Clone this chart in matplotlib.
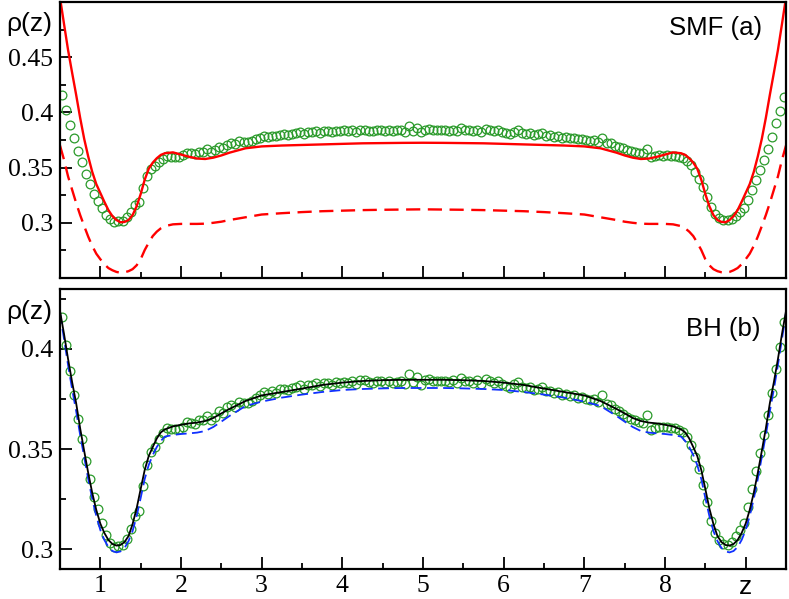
import numpy as np
import matplotlib.pyplot as plt
from matplotlib.ticker import FixedLocator

# density profiles rho(z) in a slit, MC data vs theory
plt.rcParams['font.family'] = 'serif'
plt.rcParams['font.serif'] = ['Liberation Serif', 'DejaVu Serif']
SERIF = 'Liberation Serif'
SANS = ['Liberation Sans', 'DejaVu Sans']

# MC points (same data in both panels)
z_mc = np.linspace(0.525, 9.475, 180)
rho_mc = [0.416, 0.402, 0.389, 0.377, 0.365, 0.355, 0.344, 0.335, 0.326, 0.320,
          0.313, 0.307, 0.303, 0.301, 0.3015, 0.302, 0.305, 0.310, 0.3165, 0.319,
          0.3315, 0.342, 0.3487, 0.351, 0.355, 0.358, 0.3603, 0.360, 0.3598, 0.360,
          0.3612, 0.3633, 0.363, 0.3625, 0.3645, 0.3645, 0.3667, 0.3645, 0.366, 0.369,
          0.368, 0.3708, 0.372, 0.3712, 0.3737, 0.373, 0.3728, 0.374, 0.3755, 0.377,
          0.3787, 0.3775, 0.379, 0.3782, 0.3798, 0.380, 0.3795, 0.3805, 0.3812, 0.3818,
          0.380, 0.3822, 0.382, 0.3828, 0.3815, 0.383, 0.3832, 0.382, 0.3835, 0.3828,
          0.3837, 0.383, 0.384, 0.3825, 0.3845, 0.3845, 0.3835, 0.383, 0.3842, 0.384,
          0.383, 0.3838, 0.3832, 0.3837, 0.384, 0.3825, 0.3873, 0.3835, 0.386, 0.382,
          0.3845, 0.3848, 0.384, 0.3842, 0.3838, 0.384, 0.3835, 0.3843, 0.383, 0.3855,
          0.3838, 0.384, 0.383, 0.3845, 0.3825, 0.3848, 0.3838, 0.383, 0.384, 0.3825,
          0.3815, 0.3803, 0.3825, 0.3837, 0.381, 0.3805, 0.3812, 0.3795, 0.380, 0.381,
          0.379, 0.3792, 0.378, 0.3787, 0.377, 0.3775, 0.3765, 0.377, 0.3755, 0.376,
          0.375, 0.3745, 0.3752, 0.3735, 0.377, 0.3725, 0.372, 0.370, 0.369, 0.3675,
          0.3662, 0.365, 0.3645, 0.3635, 0.363, 0.367, 0.3595, 0.3605, 0.361, 0.3608,
          0.3612, 0.3605, 0.3603, 0.3595, 0.3585, 0.356, 0.352, 0.346, 0.340, 0.332,
          0.3235, 0.314, 0.308, 0.3045, 0.3025, 0.3022, 0.3035, 0.3065, 0.3095, 0.313,
          0.321, 0.330, 0.339, 0.348, 0.357, 0.367, 0.378, 0.390, 0.401, 0.4135]

# theory curves
z_th = [0.50, 0.55, 0.60, 0.65, 0.70, 0.75, 0.80, 0.85, 0.90, 0.95, 1.00, 1.05, 1.10, 1.15,
        1.20, 1.25, 1.30, 1.35, 1.40, 1.45, 1.50, 1.55, 1.60, 1.65, 1.70, 1.75, 1.80,
        1.90, 2.00, 2.10, 2.20, 2.30, 2.40, 2.50, 2.60, 2.80, 3.00, 3.25, 3.50, 3.75,
        4.00, 4.25, 4.50, 4.75, 5.00,
        5.25, 5.50, 5.75, 6.00, 6.25, 6.50, 6.75, 7.00, 7.20, 7.40, 7.50, 7.60, 7.70,
        7.80, 7.90, 8.00, 8.10, 8.20, 8.25, 8.30, 8.35, 8.40, 8.45, 8.50, 8.55, 8.60,
        8.65, 8.70, 8.75, 8.80, 8.85, 8.90, 8.95, 9.00, 9.05, 9.10, 9.15, 9.20, 9.25,
        9.30, 9.35, 9.40, 9.45, 9.50]

smf_full = [0.504, 0.480, 0.4565, 0.436, 0.416, 0.395, 0.376, 0.360, 0.346, 0.335, 0.327,
            0.319, 0.3115, 0.306, 0.3025, 0.3005, 0.3008, 0.3025, 0.307, 0.315, 0.326, 0.339,
            0.349, 0.3545, 0.3585, 0.3615, 0.363, 0.3638, 0.3618, 0.3598, 0.3582, 0.3578,
            0.359, 0.361, 0.3635, 0.3675, 0.3692, 0.370, 0.3705, 0.371, 0.3715, 0.372,
            0.3722, 0.3724, 0.3725,
            0.3724, 0.3722, 0.372, 0.3715, 0.371, 0.3705, 0.370, 0.3692, 0.3675, 0.3635,
            0.361, 0.359, 0.3578, 0.3582, 0.3598, 0.3618, 0.3638, 0.363, 0.3615, 0.3585,
            0.3545, 0.349, 0.339, 0.326, 0.315, 0.307, 0.3025, 0.3008, 0.3005, 0.3025,
            0.306, 0.3115, 0.319, 0.327, 0.335, 0.346, 0.360, 0.376, 0.395, 0.416, 0.436,
            0.4565, 0.480, 0.504]

smf_dash = [0.370, 0.357, 0.342, 0.330, 0.318, 0.307, 0.297, 0.2874, 0.279, 0.272, 0.267,
            0.2625, 0.259, 0.257, 0.2555, 0.2548, 0.2552, 0.2562, 0.258, 0.2615, 0.267,
            0.2753, 0.282, 0.288, 0.292, 0.295, 0.297, 0.2986, 0.299, 0.299, 0.299, 0.2992,
            0.300, 0.301, 0.3025, 0.305, 0.3075, 0.3087, 0.3097, 0.3105, 0.311, 0.3115,
            0.3118, 0.312, 0.3122,
            0.312, 0.3118, 0.3115, 0.311, 0.3105, 0.3097, 0.3087, 0.3075, 0.305, 0.3025,
            0.301, 0.300, 0.2992, 0.299, 0.299, 0.299, 0.2986, 0.297, 0.295, 0.292, 0.288,
            0.282, 0.2753, 0.267, 0.2615, 0.258, 0.2562, 0.2552, 0.2548, 0.2555, 0.257,
            0.259, 0.2625, 0.267, 0.272, 0.279, 0.2874, 0.297, 0.307, 0.318, 0.330, 0.342,
            0.357, 0.370]

bh_full = [0.419, 0.4075, 0.395, 0.3835, 0.373, 0.3603, 0.349, 0.338, 0.328, 0.3195, 0.3127,
           0.308, 0.3045, 0.3025, 0.3017, 0.302, 0.3035, 0.3065, 0.3125, 0.3203, 0.330,
           0.3395, 0.3465, 0.351, 0.3553, 0.3583, 0.3598, 0.3613, 0.3621, 0.3628, 0.3632,
           0.364, 0.3655, 0.3678, 0.370, 0.374, 0.3768, 0.3785, 0.3802, 0.382, 0.3832,
           0.384, 0.3844, 0.3846, 0.3846,
           0.3846, 0.3844, 0.384, 0.3832, 0.382, 0.3802, 0.3785, 0.3768, 0.374, 0.370,
           0.3678, 0.3655, 0.364, 0.3632, 0.3628, 0.3621, 0.3613, 0.3598, 0.3583, 0.3553,
           0.351, 0.3465, 0.3395, 0.330, 0.3203, 0.3125, 0.3065, 0.3035, 0.302, 0.3017,
           0.3025, 0.3045, 0.308, 0.3127, 0.3195, 0.328, 0.338, 0.349, 0.3603, 0.373,
           0.3835, 0.395, 0.4075, 0.419]

bh_dash = [0.418, 0.405, 0.392, 0.380, 0.369, 0.357, 0.346, 0.335, 0.325, 0.3165, 0.3095,
           0.3045, 0.301, 0.299, 0.2983, 0.2988, 0.3005, 0.304, 0.309, 0.3165, 0.3255,
           0.335, 0.342, 0.347, 0.351, 0.354, 0.3562, 0.357, 0.3575, 0.3578, 0.3582, 0.359,
           0.361, 0.3637, 0.3665, 0.3715, 0.3737, 0.3757, 0.3772, 0.3785, 0.3795, 0.380,
           0.3803, 0.3805, 0.3805,
           0.3805, 0.3803, 0.380, 0.3795, 0.3785, 0.3772, 0.3757, 0.3737, 0.3715, 0.3665,
           0.3637, 0.361, 0.359, 0.3582, 0.3578, 0.3575, 0.357, 0.3562, 0.354, 0.351,
           0.347, 0.342, 0.335, 0.3255, 0.3165, 0.309, 0.304, 0.3005, 0.2988, 0.2983,
           0.299, 0.301, 0.3045, 0.3095, 0.3165, 0.325, 0.335, 0.346, 0.357, 0.369, 0.380,
           0.392, 0.405, 0.418]

green = '#2a9a2a'

fig = plt.figure(figsize=(7.89, 5.99), dpi=100)
ax1 = fig.add_axes([60/789, 1-278/599, 726/789, 276/599])
ax2 = fig.add_axes([60/789, 1-569/599, 726/789, 280/599])

for ax in (ax1, ax2):
    ax.plot(z_mc, rho_mc, 'o', mfc='none', mec=green, ms=6.3, mew=0.9)

ax1.plot(z_th, smf_full, color='red', lw=1.7)
ax1.plot(z_th, smf_dash, color='red', lw=1.7, dashes=(6, 3.2))
ax2.plot(z_th, bh_dash, color='#1030ff', lw=1.3, dashes=(6, 3))
ax2.plot(z_th, bh_full, color='black', lw=1.3)

ax1.set_ylim(0.25, 0.5)
ax2.set_ylim(0.29, 0.43)
for ax in (ax1, ax2):
    ax.set_xlim(0.5, 9.5)
    ax.xaxis.set_major_locator(FixedLocator(range(1, 10)))
    ax.xaxis.set_minor_locator(FixedLocator(np.arange(0.5, 9.6, 1.0)))
    ax.tick_params(which='both', direction='in', top=False, right=False, width=1.3,
                   labelsize=18.5, pad=5)
    ax.tick_params(which='major', length=8.5)
    ax.tick_params(which='minor', length=4.5)
    for s in ax.spines.values():
        s.set_linewidth(1.6)

ax1.set_yticks([0.3, 0.35, 0.4, 0.45])
ax1.set_yticklabels(['0.3', '0.35', '0.4', '0.45'], fontfamily=SERIF)
ax1.yaxis.set_minor_locator(FixedLocator([0.275, 0.325, 0.375, 0.425, 0.475]))
ax1.tick_params(labelbottom=False)

ax2.set_yticks([0.3, 0.35, 0.4])
ax2.set_yticklabels(['0.3', '0.35', '0.4'], fontfamily=SERIF)
ax2.yaxis.set_minor_locator(FixedLocator([0.325, 0.375, 0.425]))
ax2.set_xticklabels(['1', '2', '3', '4', '5', '6', '7', '8', 'z'], fontfamily=SERIF)
ax2.tick_params(axis='x', pad=4)
zlab = ax2.get_xticklabels()[-1]
zlab.set_fontfamily(SANS)
zlab.set_fontsize(19)

fig.text(29/789, 1-24/599, 'ρ(z)', ha='center', va='center', family=SANS, size=19)
fig.text(29/789, 1-312/599, 'ρ(z)', ha='center', va='center', family=SANS, size=19)
fig.text(762/789, 1-28/599, 'SMF (a)', ha='right', va='center', family=SANS, size=18.5)
fig.text(760/789, 1-329/599, 'BH (b)', ha='right', va='center', family=SANS, size=18.5)

fig.savefig('out.png', dpi=100)
